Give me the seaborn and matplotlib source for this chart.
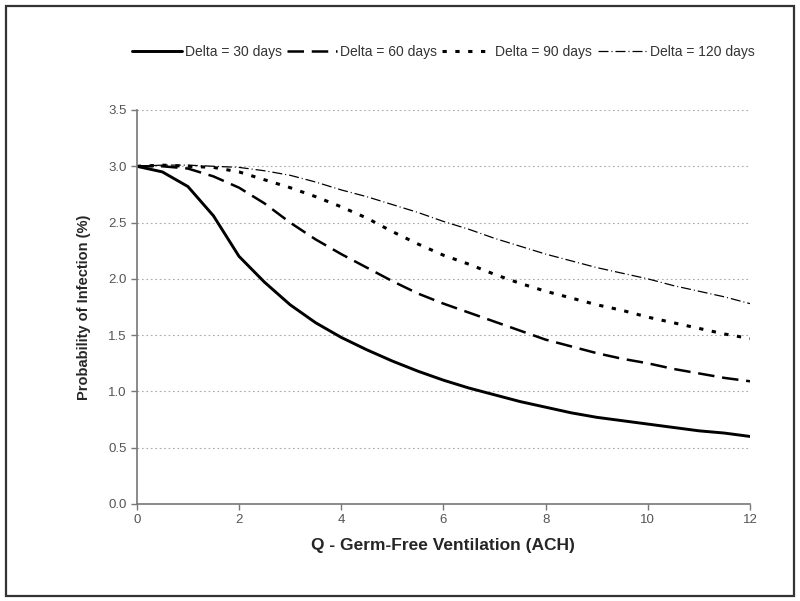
import numpy as np
import pandas as pd
import matplotlib
matplotlib.use("Agg")
import matplotlib.pyplot as plt
from matplotlib.patches import Rectangle
import seaborn as sns

# Ventilation rate (ACH)
q = [0, 0.5, 1, 1.5, 2, 2.5, 3, 3.5, 4, 4.5, 5, 5.5, 6, 6.5, 7, 7.5, 8, 8.5,
     9, 9.5, 10, 10.5, 11, 11.5, 12]

# Probability of infection (%) for each Delta
delta30 = [3.00, 2.95, 2.82, 2.56, 2.20, 1.97, 1.77, 1.61, 1.48, 1.37, 1.27,
           1.18, 1.10, 1.03, 0.97, 0.91, 0.86, 0.81, 0.77, 0.74, 0.71, 0.68,
           0.65, 0.63, 0.60]
delta60 = [3.00, 3.00, 2.98, 2.91, 2.81, 2.67, 2.50, 2.35, 2.22, 2.10, 1.98,
           1.87, 1.78, 1.70, 1.62, 1.54, 1.46, 1.40, 1.34, 1.29, 1.25, 1.20,
           1.16, 1.12, 1.09]
delta90 = [3.00, 3.01, 3.00, 2.99, 2.95, 2.88, 2.81, 2.73, 2.64, 2.54, 2.42,
           2.31, 2.21, 2.13, 2.04, 1.96, 1.89, 1.83, 1.77, 1.72, 1.66, 1.61,
           1.56, 1.51, 1.47]
delta120 = [3.00, 3.01, 3.01, 3.00, 2.99, 2.96, 2.92, 2.86, 2.79, 2.73, 2.66,
            2.59, 2.51, 2.44, 2.36, 2.29, 2.22, 2.16, 2.10, 2.05, 2.00, 1.94,
            1.89, 1.84, 1.78]

labels = ["Delta = 30 days", "Delta = 60 days", "Delta = 90 days", "Delta = 120 days"]
series = [delta30, delta60, delta90, delta120]
# (linestyle, linewidth) per series
styles = [("-", 2.1), ((0, (6.6, 3.1)), 1.8), ((0, (1.4, 2.8)), 2.2),
          ((0, (8, 2.4, 0.8, 2.4)), 0.9)]

sns.set_style("white")
plt.rcParams["font.family"] = ["Liberation Sans", "DejaVu Sans"]

fig = plt.figure(figsize=(8, 6.01), dpi=100)
ax = fig.add_axes([0.171, 0.1614, 0.7665, 0.6556])

for lab, vals, (ls, lw) in zip(labels, series, styles):
    df = pd.DataFrame({"q": q, "p": vals})
    sns.lineplot(data=df, x="q", y="p", ax=ax, color="black", linestyle=ls,
                 linewidth=lw, label=lab)

ax.set_xlim(0, 12)
ax.set_ylim(0, 3.5)
ax.set_xticks(np.arange(0, 13, 2))
ax.set_yticks(np.arange(0, 3.51, 0.5))
ax.set_yticklabels([f"{v:.1f}" for v in np.arange(0, 3.51, 0.5)])
ax.tick_params(axis="both", labelsize=9.5, labelcolor="#555555", color="#777777",
               direction="out", length=4, width=1, bottom=True, left=True)
ax.yaxis.grid(True, linestyle=(0, (1.5, 2.5)), color="#aaaaaa", linewidth=0.8)
ax.xaxis.grid(False)
for s in ["top", "right"]:
    ax.spines[s].set_visible(False)
for s in ["left", "bottom"]:
    ax.spines[s].set_color("#777777")
    ax.spines[s].set_linewidth(1.2)

ax.set_xlabel("Q - Germ-Free Ventilation (ACH)", fontsize=12.5, fontweight="bold",
              labelpad=8)
ax.set_ylabel("Probability of Infection (%)", fontsize=10.5, fontweight="bold",
              labelpad=12, fontstretch="condensed")

handles, labs = ax.get_legend_handles_labels()
ax.get_legend().remove()
fig.legend(handles, labs, loc="center", bbox_to_anchor=(0.5544, 0.914), ncol=4,
           frameon=False, fontsize=10, handlelength=3.6, columnspacing=0.4,
           handletextpad=0.2, labelcolor="#333333")

# outer border around the chart area
fig.patches.append(Rectangle((0.008, 0.008), 0.984, 0.982, transform=fig.transFigure,
                             fill=False, edgecolor="#333333", linewidth=1.6))

fig.savefig("out.png", dpi=100)
